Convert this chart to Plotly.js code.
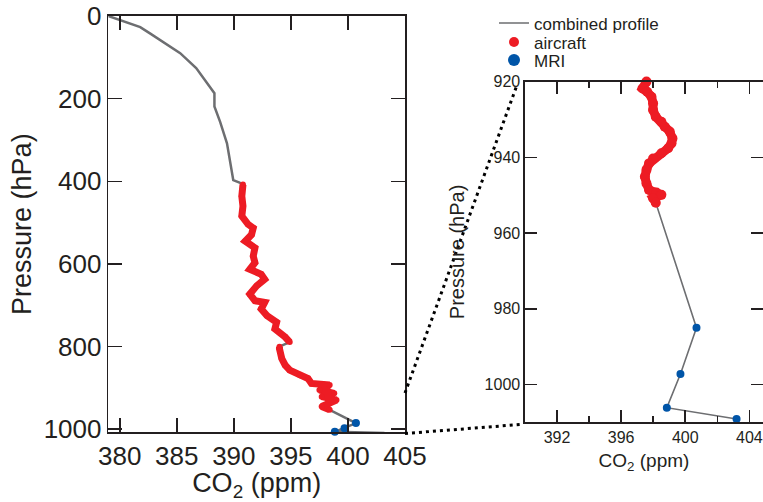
<!DOCTYPE html>
<html><head><meta charset="utf-8">
<script src="https://cdn.plot.ly/plotly-3.0.1.min.js"></script>
<style>html,body{margin:0;padding:0;background:#fff}#chart{width:763px;height:502px}</style>
</head><body><div id="chart"></div>
<script>
// ---- data ----
// upper part of the combined profile (above aircraft data)
const upperP   = [0, 10, 27, 42, 90, 126, 179, 187, 219, 256, 308, 397, 403];
const upperCO2 = [379.0, 380.0, 381.8, 382.65, 385.3, 386.7, 388.05, 388.3, 388.3, 388.8, 389.4, 389.95, 390.5];

// aircraft profile, full view (null = gap in data)
const aircraftP   = [408, 436, 460, 484, 504, 513, 529, 545, 561, 581, 597, 613, 625, 637, 653, 673, 689, 693, 709, 725, 741, 757, 777, 789, null,
                     800, 805, 829, 845, 857, 869, 877, 889, 893, 905, 913, 921, 929, 945, 953];
const aircraftCO2 = [390.8, 390.7, 390.8, 390.7, 391.25, 391.7, 391.55, 391.0, 391.85, 391.7, 391.85, 391.4, 392.4, 392.7, 392.0, 391.4, 391.85, 392.7, 392.4, 392.9, 393.75, 393.6, 394.5, 394.9, null,
                     394.0, 394.0, 394.2, 394.5, 394.9, 395.8, 396.5, 396.8, 398.4, 397.5, 398.8, 397.7, 399.0, 397.7, 398.4];

// aircraft profile, zoomed view (920-952 hPa)
const zoomAircraftP   = [920.0, 921.8, 922.7, 924.0, 925.7, 927.5, 929.3, 930.6, 931.9, 933.2, 935.0, 936.3, 937.6, 938.9, 940.3, 941.6, 943.3, 945.1, 946.9, 948.6, 949.3, 949.9, 950.8, 952.0];
const zoomAircraftCO2 = [397.58, 397.33, 397.62, 397.89, 397.99, 397.99, 398.16, 398.51, 398.72, 399.03, 399.2, 399.14, 398.93, 398.51, 397.99, 397.74, 397.58, 397.48, 397.58, 397.74, 398.2, 398.51, 397.99, 398.16];

// MRI surface measurements
const mriP   = [985, 997.2, 1006.1, 1009.1];
const mriCO2 = [400.7, 399.7, 398.85, 403.2];

// tick labels
const leftXTicks  = [380, 385, 390, 395, 400, 405];
const leftYTicks  = [0, 200, 400, 600, 800, 1000];
const rightXTicks = [392, 396, 400, 404];
const rightXMinor = [394, 398, 402];
const rightYTicks = [920, 940, 960, 980, 1000];

// ---- build ----
const W = 763, H = 502;
const FONT = '"Liberation Sans", Arial, Helvetica, sans-serif';
const INK = '#231f20';
const GRAY = '#6d6e71', RED = '#ed1c24', BLUE = '#0055a8';

function nn(a){ return a.filter(v => v !== null); }
const combLeftP   = upperP.concat(nn(aircraftP), mriP);
const combLeftCO2 = upperCO2.concat(nn(aircraftCO2), mriCO2);
const combRightP   = zoomAircraftP.concat(mriP);
const combRightCO2 = zoomAircraftCO2.concat(mriCO2);

const fx = px => px / W;
const fy = py => 1 - py / H;

const traces = [
  {x: combLeftCO2, y: combLeftP, xaxis:'x', yaxis:'y', mode:'lines', line:{color:GRAY, width:2.5}, showlegend:false, hoverinfo:'skip'},
  {x: aircraftCO2, y: aircraftP, xaxis:'x', yaxis:'y', mode:'lines+markers', connectgaps:false,
   line:{color:RED, width:7}, marker:{color:RED, size:6}, showlegend:false},
  {x: mriCO2, y: mriP, xaxis:'x', yaxis:'y', mode:'markers', marker:{color:BLUE, size:8}, showlegend:false, cliponaxis:false},

  {x: combRightCO2, y: combRightP, xaxis:'x2', yaxis:'y2', mode:'lines', line:{color:GRAY, width:1.6},
   name:'combined profile', legend:'legend', showlegend:true},
  {x: zoomAircraftCO2, y: zoomAircraftP, xaxis:'x2', yaxis:'y2', mode:'lines', line:{color:RED, width:9},
   showlegend:false, cliponaxis:false},
  {x: zoomAircraftCO2, y: zoomAircraftP, xaxis:'x2', yaxis:'y2', mode:'markers', marker:{color:RED, size:10},
   name:'aircraft', legend:'legend2', showlegend:true, cliponaxis:false},
  {x: mriCO2, y: mriP, xaxis:'x2', yaxis:'y2', mode:'markers', marker:{color:BLUE, size:8},
   name:'MRI', legend:'legend3', showlegend:true, cliponaxis:false}
];

const axBase = {showline:true, linecolor:INK, linewidth:1.6, mirror:'ticks', ticks:'inside',
  tickcolor:INK, tickwidth:1.6, showgrid:false, zeroline:false, fixedrange:true};

const legBase = {xanchor:'left', yanchor:'middle', bgcolor:'rgba(0,0,0,0)', borderwidth:0,
  font:{family:FONT, size:17, color:INK}, itemclick:false, itemdoubleclick:false};

const layout = {
  width: W, height: H,
  margin: {l:0, r:0, t:0, b:0},
  paper_bgcolor:'#fff', plot_bgcolor:'#fff',
  font: {family: FONT, color: INK},
  xaxis: Object.assign({}, axBase, {
    domain:[fx(108.3), fx(405)], range:[379.0, 405.0], anchor:'y',
    tickvals: leftXTicks, ticktext: leftXTicks.map(String), ticklen:14, tickfont:{size:26, color:INK},
    title:{text:'CO<sub>2</sub> (ppm)', font:{size:27, color:INK}, standoff:6}
  }),
  yaxis: Object.assign({}, axBase, {
    domain:[fy(432.3), fy(16)], range:[1007.3, 0], anchor:'x',
    tickvals: leftYTicks, ticklen:14, tickfont:{size:26, color:INK},
    title:{text:'Pressure (hPa)', font:{size:27, color:INK}, standoff:4}
  }),
  xaxis2: Object.assign({}, axBase, {
    domain:[fx(525), 1], range:[390, 404.85], anchor:'y2',
    tickvals: rightXTicks, ticklen:12, tickfont:{size:16, color:INK},
    minor:{tickvals: rightXMinor, ticklen:6, tickwidth:1.6, tickcolor:INK, ticks:'inside'},
    title:{text:'CO<sub>2</sub> (ppm)', font:{size:19, color:INK}, standoff:8}
  }),
  yaxis2: Object.assign({}, axBase, {
    domain:[fy(422.3), fy(81.6)], range:[1009.95, 920], anchor:'x2',
    tickvals: rightYTicks, ticklen:12, tickfont:{size:16, color:INK},
    title:{text:'Pressure (hPa)', font:{size:20, color:INK}, standoff:14}
  }),
  showlegend: true,
  legend:  Object.assign({}, legBase, {x: fx(494), y: fy(23.5), itemsizing:'trace'}),
  legend2: Object.assign({}, legBase, {x: fx(494), y: fy(42.5), itemsizing:'trace'}),
  legend3: Object.assign({}, legBase, {x: fx(494), y: fy(60.5), itemsizing:'constant'}),
  shapes: [
    {type:'line', xref:'paper', yref:'paper', x0:fx(405), y0:fy(393), x1:fx(517), y1:fy(85),
     line:{color:'#000', width:3, dash:'3px,4px'}},
    {type:'line', xref:'paper', yref:'paper', x0:fx(405), y0:fy(433.5), x1:fx(520), y1:fy(424.5),
     line:{color:'#000', width:3, dash:'3px,4px'}}
  ]
};

Plotly.newPlot('chart', traces, layout, {displayModeBar:false, staticPlot:true});
</script>
</body></html>
